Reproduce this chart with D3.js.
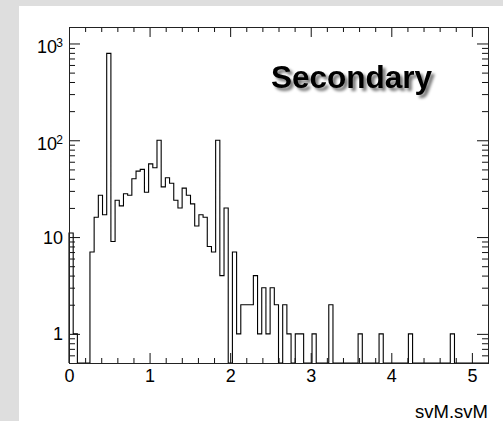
<!DOCTYPE html>
<html>
<head>
<meta charset="utf-8">
<script src="https://cdn.jsdelivr.net/npm/d3@7"></script>
<style>
  html, body { margin: 0; padding: 0; overflow: hidden; background: #dedede; }
  svg { display: block; }
</style>
</head>
<body>
<div id="chart"></div>
<script>
var svgWidth = 503;
var svgHeight = 421;

// histogram of svM.svM : 100 bins over [0, 5.2]
var binLow = 0;
var binHigh = 5.2;
var counts = [
  11, 1, 0, 0, 0, 7, 16, 27, 17, 790,
  9, 24, 21, 28, 27, 40, 48, 50, 29, 57,
  52, 100, 33, 41, 36, 24, 20, 32, 27, 22,
  13, 17, 16, 8, 7, 100, 4, 20, 0, 7,
  1, 2, 2, 2, 4, 1, 3, 1, 3, 2,
  0, 2, 1, 0, 1, 1, 0, 0, 1, 0,
  0, 0, 2, 0, 0, 0, 0, 0, 0, 1,
  0, 0, 0, 0, 1, 0, 0, 0, 0, 0,
  0, 1, 0, 0, 0, 0, 0, 0, 0, 0,
  0, 1, 0, 0, 0, 0, 0, 0, 0, 0
];
var xMajorTicks = [0, 1, 2, 3, 4, 5];
var yMajorTicks = [1, 10, 100, 1000];
var yTickLabels = [["1", ""], ["10", ""], ["10", "2"], ["10", "3"]];
var xTitle = "svM.svM";
var histTitle = "Secondary";

var margin = { top: 27, right: 15, bottom: 58, left: 69 };
var width = svgWidth - margin.left - margin.right;
var height = svgHeight - margin.top - margin.bottom;

var svg = d3.select("#chart")
  .append("svg")
  .attr("width", svgWidth)
  .attr("height", svgHeight);

// white pad
svg.append("rect")
  .attr("x", 19).attr("y", 6)
  .attr("width", svgWidth - 19).attr("height", svgHeight - 6)
  .attr("fill", "#ffffff");

var defs = svg.append("defs");
var shadow = defs.append("filter").attr("id", "shadow")
  .attr("x", "-10%").attr("y", "-30%").attr("width", "130%").attr("height", "170%");
shadow.append("feGaussianBlur").attr("in", "SourceAlpha").attr("stdDeviation", 1.6).attr("result", "blur");
shadow.append("feOffset").attr("in", "blur").attr("dx", 3).attr("dy", 3).attr("result", "off");
shadow.append("feComponentTransfer").attr("in", "off").attr("result", "soft")
  .append("feFuncA").attr("type", "linear").attr("slope", 0.55);
var merge = shadow.append("feMerge");
merge.append("feMergeNode").attr("in", "soft");
merge.append("feMergeNode").attr("in", "SourceGraphic");

var chartGroup = svg.append("g")
  .attr("transform", `translate(${margin.left}, ${margin.top})`);

var binWidth = (binHigh - binLow) / counts.length;

var xScale = d3.scaleLinear()
  .domain([binLow, binHigh])
  .range([0, width]);

var yScale = d3.scaleLog()
  .domain([0.5, 1480])
  .range([height, 0]);

var yMin = yScale.domain()[0];

// histogram outline (empty bins sit on the bottom of the frame)
var pts = [[xScale(binLow), yScale(yMin)]];
counts.forEach(function(c, i) {
  var v = c > 0 ? c : yMin;
  pts.push([xScale(binLow + i * binWidth), yScale(v)]);
  pts.push([xScale(binLow + (i + 1) * binWidth), yScale(v)]);
});
pts.push([xScale(binHigh), yScale(yMin)]);

chartGroup.append("path")
  .attr("d", d3.line()(pts))
  .attr("fill", "none")
  .attr("stroke", "#000")
  .attr("stroke-width", 1.1);

// axes, ticks pointing inwards
function styleAxis(g) {
  g.select(".domain").remove();
  g.selectAll("line").attr("stroke", "#111");
}

var xMinor = xScale.ticks(26).filter(d => xMajorTicks.indexOf(d) < 0);
var yMinor = yScale.ticks().filter(d => yMajorTicks.indexOf(d) < 0);

chartGroup.append("g")
  .attr("transform", `translate(0, ${height})`)
  .call(d3.axisBottom(xScale).tickValues(xMajorTicks).tickSizeInner(-10).tickSizeOuter(0).tickPadding(6).tickFormat(d3.format("d")))
  .call(styleAxis)
  .call(g => g.selectAll("text")
    .attr("font-family", "Liberation Sans, Arial, sans-serif")
    .attr("font-size", "18px")
    .attr("fill", "#000"));

chartGroup.append("g")
  .attr("transform", `translate(0, ${height})`)
  .call(d3.axisBottom(xScale).tickValues(xMinor).tickSizeInner(-5).tickSizeOuter(0).tickFormat(""))
  .call(styleAxis);

chartGroup.append("g")
  .call(d3.axisTop(xScale).tickValues(xMajorTicks).tickSizeInner(-10).tickSizeOuter(0).tickFormat(""))
  .call(styleAxis);

chartGroup.append("g")
  .call(d3.axisTop(xScale).tickValues(xMinor).tickSizeInner(-5).tickSizeOuter(0).tickFormat(""))
  .call(styleAxis);

chartGroup.append("g")
  .call(d3.axisLeft(yScale).tickValues(yMajorTicks).tickSizeInner(-11).tickSizeOuter(0).tickFormat(""))
  .call(styleAxis);

chartGroup.append("g")
  .call(d3.axisLeft(yScale).tickValues(yMinor).tickSizeInner(-6).tickSizeOuter(0).tickFormat(""))
  .call(styleAxis);

chartGroup.append("g")
  .attr("transform", `translate(${width}, 0)`)
  .call(d3.axisRight(yScale).tickValues(yMajorTicks).tickSizeInner(-11).tickSizeOuter(0).tickFormat(""))
  .call(styleAxis);

chartGroup.append("g")
  .attr("transform", `translate(${width}, 0)`)
  .call(d3.axisRight(yScale).tickValues(yMinor).tickSizeInner(-6).tickSizeOuter(0).tickFormat(""))
  .call(styleAxis);

// y tick labels with superscript exponents
var yLab = chartGroup.append("g")
  .attr("font-family", "Liberation Sans, Arial, sans-serif")
  .attr("fill", "#000")
  .attr("text-anchor", "end");

yMajorTicks.forEach(function(t, i) {
  var base = yTickLabels[i][0];
  var expo = yTickLabels[i][1];
  var ty = yScale(t);
  if (expo === "") {
    yLab.append("text")
      .attr("x", -6)
      .attr("y", ty)
      .attr("dy", "0.36em")
      .attr("font-size", "18px")
      .text(base);
  } else {
    yLab.append("text")
      .attr("x", -12)
      .attr("y", ty + 10)
      .attr("font-size", "18px")
      .text(base);
    yLab.append("text")
      .attr("x", -6)
      .attr("y", ty + 3.5)
      .attr("font-size", "12px")
      .text(expo);
  }
});

// frame
chartGroup.append("rect")
  .attr("x", 0.5).attr("y", 0.5)
  .attr("width", width).attr("height", height)
  .attr("fill", "none")
  .attr("stroke", "#222")
  .attr("stroke-width", 1);

// axis title
chartGroup.append("text")
  .attr("x", width)
  .attr("y", height + margin.bottom - 3)
  .attr("text-anchor", "end")
  .attr("font-family", "Liberation Sans, Arial, sans-serif")
  .attr("font-size", "18.5px")
  .attr("fill", "#000")
  .text(xTitle);

// label in the pad
chartGroup.append("text")
  .attr("x", 271 - margin.left)
  .attr("y", 87.5 - margin.top)
  .attr("font-family", "Liberation Sans, Arial, sans-serif")
  .attr("font-weight", "bold")
  .attr("font-size", "31.5px")
  .attr("fill", "#000")
  .attr("filter", "url(#shadow)")
  .text(histTitle);
</script>
</body>
</html>
